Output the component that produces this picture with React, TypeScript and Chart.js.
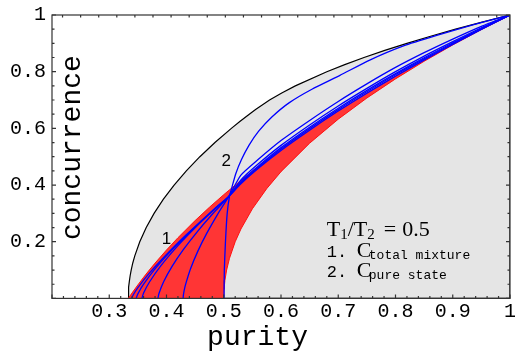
import React, { useEffect, useRef } from 'react';
import { Chart, registerables } from 'chart.js';

Chart.register(...registerables);

// Upper boundary (black): purity / concurrence
const memsP = [0.3333, 0.3335, 0.3341, 0.3351, 0.3365, 0.3383, 0.3411, 0.3446, 0.3533, 0.3646, 0.3783, 0.3946, 0.4133, 0.4346, 0.4583, 0.4846, 0.5133, 0.5286, 0.5446, 0.5556, 0.58, 0.6013, 0.625, 0.68, 0.7113, 0.745, 0.7813, 0.82, 0.8613, 0.905, 0.9513, 1];
const memsC = [0, 0.02, 0.04, 0.06, 0.08, 0.1, 0.125, 0.15, 0.2, 0.25, 0.3, 0.35, 0.4, 0.45, 0.5, 0.55, 0.6, 0.625, 0.65, 0.6667, 0.7, 0.725, 0.75, 0.8, 0.825, 0.85, 0.875, 0.9, 0.925, 0.95, 0.975, 1];

// Red region: upper edge
const redTopP = [0.3333, 0.335, 0.34, 0.35, 0.36, 0.37, 0.38, 0.4, 0.42, 0.45, 0.475, 0.5, 0.53, 0.56, 0.6, 0.65, 0.7, 0.75, 0.8, 0.85, 0.9, 0.95, 1];
const redTopC = [0, 0.005, 0.0196, 0.0477, 0.0745, 0.1, 0.1245, 0.1708, 0.2141, 0.2746, 0.3216, 0.366, 0.4165, 0.4644, 0.5247, 0.5954, 0.6619, 0.7247, 0.7845, 0.8416, 0.8964, 0.9491, 1];
// Red region: lower edge
const redLowP = [0.5, 0.5005, 0.502, 0.505, 0.51, 0.52, 0.53, 0.55, 0.575, 0.6, 0.65, 0.7, 0.75, 0.8, 0.85, 0.9, 0.95, 1];
const redLowC = [0, 0.0316, 0.0632, 0.1, 0.1414, 0.2, 0.2449, 0.3162, 0.3873, 0.4472, 0.5477, 0.6325, 0.7071, 0.7746, 0.8367, 0.8944, 0.9487, 1];

// Blue curve 2 (pure state)
const pureP = [0.5005, 0.501, 0.503, 0.506, 0.51, 0.514, 0.521, 0.531, 0.544, 0.561, 0.584, 0.614, 0.654, 0.703, 0.755, 0.814, 0.872, 0.935, 1];
const pureC = [0, 0.1, 0.2, 0.3, 0.36, 0.39, 0.44, 0.49, 0.54, 0.59, 0.64, 0.69, 0.738, 0.787, 0.841, 0.891, 0.928, 0.965, 1];

// Blue curves of the total-mixture family
const mixA_P = [0.339, 0.342, 0.35, 0.37, 0.4, 0.43, 0.46, 0.49, 0.509, 0.53, 0.56, 0.6, 0.65, 0.7, 0.75, 0.8, 0.85, 0.9, 0.95, 1];
const mixA_C = [0, 0.013, 0.038, 0.089, 0.155, 0.216, 0.272, 0.327, 0.36, 0.4045, 0.458, 0.522, 0.5935, 0.661, 0.724, 0.784, 0.841, 0.896, 0.949, 1];
const mixB_P = [0.347, 0.35, 0.36, 0.38, 0.41, 0.44, 0.47, 0.49, 0.509, 0.53, 0.56, 0.6, 0.65, 0.7, 0.75, 0.8, 0.85, 0.9, 0.95, 1];
const mixB_C = [0, 0.016, 0.05, 0.104, 0.172, 0.2335, 0.29, 0.3266, 0.36, 0.408, 0.461, 0.527, 0.599, 0.666, 0.729, 0.789, 0.845, 0.899, 0.951, 1];
const mixC_P = [0.357, 0.36, 0.37, 0.39, 0.42, 0.45, 0.48, 0.509, 0.53, 0.56, 0.6, 0.65, 0.7, 0.75, 0.8, 0.85, 0.9, 0.95, 1];
const mixC_C = [0, 0.019, 0.057, 0.1146, 0.186, 0.249, 0.307, 0.36, 0.412, 0.466, 0.532, 0.604, 0.671, 0.734, 0.793, 0.849, 0.902, 0.952, 1];
const mixD_P = [0.385, 0.387, 0.395, 0.41, 0.43, 0.455, 0.48, 0.509, 0.53, 0.56, 0.6, 0.65, 0.7, 0.75, 0.8, 0.85, 0.9, 0.95, 1];
const mixD_C = [0, 0.018, 0.0587, 0.1137, 0.1735, 0.2385, 0.297, 0.36, 0.418, 0.474, 0.54, 0.612, 0.679, 0.741, 0.8, 0.855, 0.906, 0.955, 1];
const mixE_P = [0.429, 0.4295, 0.431, 0.433, 0.442, 0.455, 0.47, 0.49, 0.509, 0.53, 0.56, 0.6, 0.65, 0.7, 0.75, 0.8, 0.85, 0.9, 0.95, 1];
const mixE_C = [0, 0.0114, 0.0293, 0.047, 0.1046, 0.1677, 0.2285, 0.2994, 0.36, 0.435, 0.49, 0.557, 0.628, 0.695, 0.757, 0.815, 0.867, 0.915, 0.96, 1];

const xTickLabels = ['0.3', '0.4', '0.5', '0.6', '0.7', '0.8', '0.9', '1'];
const yTickLabels = ['0.2', '0.4', '0.6', '0.8', '1'];

const xTitle = 'purity';
const yTitle = 'concurrence';

const zip = (p: number[], c: number[]) => p.map((v, i) => ({ x: v, y: c[i] }));

const MONO = '"Liberation Mono", "DejaVu Sans Mono", monospace';
const SERIF = '"Liberation Serif", "DejaVu Serif", serif';
const SANS = '"Liberation Sans", Arial, sans-serif';

const framePlugin = {
  id: 'frameTicks',
  afterDatasetsDraw(chart: any) {
    const { ctx, chartArea: a, scales } = chart;
    const x = scales.x;
    const y = scales.y;
    ctx.save();
    ctx.strokeStyle = '#333';
    ctx.lineWidth = 1.2;
    ctx.beginPath();
    for (let i = 0; i <= 40; i++) {
      const v = 0.2 + i * 0.02;
      const px = x.getPixelForValue(v);
      const len = i % 5 === 0 ? 4 : 2.5;
      ctx.moveTo(px, a.bottom);
      ctx.lineTo(px, a.bottom - len);
    }
    for (let v = 0.9768; v > 0.2; v -= 0.0316) {
      const px = x.getPixelForValue(v);
      ctx.moveTo(px, a.top);
      ctx.lineTo(px, a.top + 2.5);
    }
    for (let i = 0; i <= 20; i++) {
      const v = i * 0.05;
      const py = y.getPixelForValue(v);
      const len = i % 4 === 0 ? 4 : 2.5;
      ctx.moveTo(a.left, py);
      ctx.lineTo(a.left + len, py);
      ctx.moveTo(a.right, py);
      ctx.lineTo(a.right - len, py);
    }
    ctx.stroke();
    ctx.strokeRect(a.left, a.top, a.right - a.left, a.bottom - a.top);
    ctx.restore();
  },
};

function drawRuns(ctx: CanvasRenderingContext2D, x: number, y: number, runs: any[]) {
  let cx = x;
  for (const r of runs) {
    if (r.at !== undefined) cx = x + r.at;
    ctx.font = r.font;
    ctx.fillText(r.text, cx, y + (r.dy || 0));
    cx += ctx.measureText(r.text).width + (r.gap || 0);
  }
}

const textPlugin = {
  id: 'texts',
  afterDraw(chart: any) {
    const { ctx, chartArea: a, scales } = chart;
    const x = scales.x;
    const y = scales.y;
    ctx.save();
    ctx.fillStyle = '#000';
    ctx.font = `17px ${SANS}`;
    ctx.textAlign = 'center';
    ctx.textBaseline = 'middle';
    ctx.fillText('1', x.getPixelForValue(0.4), y.getPixelForValue(0.21));
    ctx.fillText('2', x.getPixelForValue(0.5045), y.getPixelForValue(0.485));
    ctx.font = `28px ${MONO}`;
    ctx.textBaseline = 'alphabetic';
    ctx.fillText(xTitle, x.getPixelForValue(0.559), a.bottom + 46.6);
    ctx.save();
    ctx.translate(a.left + 28, y.getPixelForValue(0.532));
    ctx.rotate(-Math.PI / 2);
    ctx.fillText(yTitle, 0, 0);
    ctx.restore();
    ctx.textAlign = 'left';
    const x0 = x.getPixelForValue(0.68);
    const b0 = y.getPixelForValue(0.2215);
    const big = `22px ${SERIF}`;
    const sub = `15px ${SERIF}`;
    drawRuns(ctx, x0, b0, [
      { text: 'T', font: big },
      { text: '1', font: sub, dy: 3 },
      { text: '/', font: big },
      { text: 'T', font: big },
      { text: '2', font: sub, dy: 3, gap: 9 },
      { text: '=', font: big, gap: 6 },
      { text: '0.5', font: big },
    ]);
    drawRuns(ctx, x0, b0 + 21, [
      { text: '1.', font: `17px ${MONO}` },
      { text: 'C', font: big, at: 30 },
      { text: 'total mixture', font: `13px ${MONO}`, dy: 2, at: 42 },
    ]);
    drawRuns(ctx, x0, b0 + 41.5, [
      { text: '2.', font: `17px ${MONO}` },
      { text: 'C', font: big, at: 30 },
      { text: 'pure state', font: `13px ${MONO}`, dy: 2, at: 42 },
    ]);
    ctx.restore();
  },
};

export default function App() {
  const ref = useRef<HTMLCanvasElement>(null);

  useEffect(() => {
    const canvas = ref.current;
    if (!canvas) return;
    const blue = (p: number[], c: number[]) => ({
      data: zip(p, c),
      borderColor: '#0000ff',
      borderWidth: 1.3,
      pointRadius: 0,
      fill: false,
      tension: 0.2,
      order: 1,
    });
    const redPoly = [
      ...zip(redTopP, redTopC),
      ...zip(redLowP, redLowC).reverse(),
      { x: redTopP[0], y: redTopC[0] },
    ];
    const grayPoly = [
      ...zip(memsP, memsC),
      { x: 1, y: 0 },
      { x: memsP[0], y: 0 },
    ];
    const chart = new Chart(canvas, {
      type: 'line',
      data: {
        datasets: [
          {
            data: grayPoly,
            borderColor: '#000',
            borderWidth: 1.2,
            backgroundColor: '#e5e5e5',
            fill: 'shape',
            pointRadius: 0,
            tension: 0,
            order: 10,
          },
          {
            data: redPoly,
            borderColor: '#ff1010',
            borderWidth: 1,
            backgroundColor: '#ff3535',
            fill: 'shape',
            pointRadius: 0,
            tension: 0,
            order: 9,
          },
          blue(mixA_P, mixA_C),
          blue(mixB_P, mixB_C),
          blue(mixC_P, mixC_C),
          blue(mixD_P, mixD_C),
          blue(mixE_P, mixE_C),
          blue(pureP, pureC),
        ] as any,
      },
      options: {
        animation: false,
        responsive: false,
        devicePixelRatio: 1,
        layout: { padding: { top: 15, right: 5, left: 0, bottom: 0 } },
        plugins: {
          legend: { display: false },
          tooltip: { enabled: false },
        },
        scales: {
          x: {
            type: 'linear',
            min: 0.2,
            max: 1,
            grid: { display: false, drawTicks: false },
            border: { display: false },
            ticks: {
              stepSize: 0.1,
              autoSkip: false,
              maxRotation: 0,
              padding: 1,
              color: '#000',
              font: { family: MONO, size: 20 },
              callback: (v: any) => xTickLabels[Math.round(Number(v) * 10) - 3] ?? '',
            },
            afterFit: (s: any) => {
              s.height = 57.6;
              s.paddingLeft = 0;
              s.paddingRight = 0;
            },
          },
          y: {
            type: 'linear',
            min: 0,
            max: 1,
            grid: { display: false, drawTicks: false },
            border: { display: false },
            ticks: {
              stepSize: 0.2,
              padding: 6,
              color: '#000',
              font: { family: MONO, size: 20 },
              callback: (v: any) => yTickLabels[Math.round(Number(v) * 5) - 1] ?? '',
            },
            afterFit: (s: any) => {
              s.width = 52;
              s.paddingTop = 0;
              s.paddingBottom = 0;
            },
          },
        },
      } as any,
      plugins: [framePlugin, textPlugin],
    });
    return () => chart.destroy();
  }, []);

  return (
    <div style={{ position: 'fixed', left: 0, top: 0, width: 515, height: 356, background: '#fff' }}>
      <canvas ref={ref} width={515} height={356} style={{ display: 'block' }} />
    </div>
  );
}
